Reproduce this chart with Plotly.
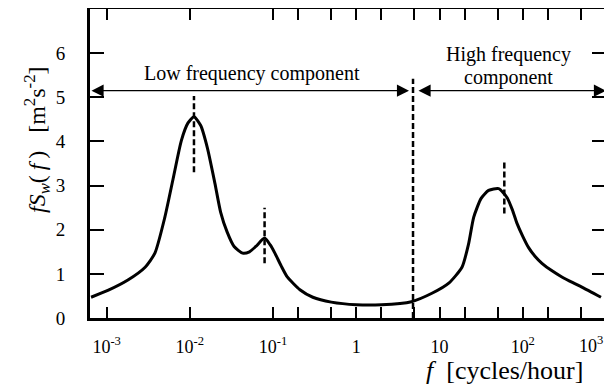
import math
import plotly.graph_objects as go

# ---- data ----
freq = [0.00065, 0.00105, 0.0018, 0.0029, 0.0038, 0.0050, 0.0063, 0.0079, 0.0095,
        0.0112, 0.0135, 0.0162, 0.020, 0.0234, 0.028, 0.034, 0.043, 0.052, 0.062, 0.079,
        0.092, 0.105, 0.125, 0.148, 0.21, 0.30, 0.50, 1.0, 2.0, 4.6, 8.1, 12.9, 18.6,
        22.4, 25.7, 31.6, 38.9, 51.3, 64.6, 75, 85, 100, 117, 140, 170, 220, 295, 400,
        513, 870]
fSw = [0.47, 0.63, 0.86, 1.15, 1.47, 2.28, 3.16, 4.02, 4.42,
       4.56, 4.36, 3.86, 3.05, 2.40, 1.95, 1.62, 1.47, 1.50, 1.62, 1.81,
       1.66, 1.47, 1.18, 0.93, 0.64, 0.47, 0.36, 0.30, 0.30, 0.37, 0.56, 0.79, 1.15,
       1.69, 2.28, 2.71, 2.89, 2.93, 2.73, 2.45, 2.15, 1.85, 1.60, 1.40, 1.24, 1.08, 0.93, 0.80,
       0.70, 0.47]

peak_f = [0.0112, 0.079, 60]
peak_lo = [3.3, 1.24, 2.37]
peak_hi = [5.03, 2.5, 3.57]

f_min, f_split, f_max = 10 ** -3.2, 4.8, 1000
split_top = 5.42
arrow_level = 5.15

x_tick_vals = [0.001, 0.01, 0.1, 0.2, 0.5, 1, 2, 5, 10, 20, 50, 100, 200, 500]
x_tick_text = ['10<sup>-3</sup>', '10<sup>-2</sup>', '10<sup>-1</sup>', '', '', '1', '', '',
               '10', '', '', '10<sup>2</sup>', '', '']
y_tick_vals = [0, 1, 2, 3, 4, 5, 6]

FONT = "Liberation Serif"

fig = go.Figure()

for f, lo, hi in zip(peak_f, peak_lo, peak_hi):
    fig.add_trace(go.Scatter(x=[f, f], y=[lo, hi], mode="lines",
                             line=dict(color="black", width=2.5, dash="6px,3px"),
                             showlegend=False, hoverinfo="skip"))
fig.add_trace(go.Scatter(x=[f_split, f_split], y=[0, split_top], mode="lines",
                         line=dict(color="black", width=2.5, dash="6px,3px"),
                         showlegend=False, hoverinfo="skip"))

fig.add_trace(go.Scatter(x=freq, y=fSw, mode="lines",
                         line=dict(color="black", width=3, shape="spline", smoothing=0.6),
                         showlegend=False))

lx = math.log10
tf = dict(family=FONT, size=20, color="black")
# page is drawn with an 8px body margin: plot area spans page x 90-606, y 9-318
PX0, PX1, PY0, PY1 = 90, 606, 9, 318


def px(x):
    return (x - PX0) / (PX1 - PX0)


def py(y):
    return (PY1 - y) / (PY1 - PY0)


NB = "\u00a0"
TH = "\u2009"
y_title = ("<i>fS</i><sub><i>w</i></sub>(" + TH + "<i>f</i>" + TH + ")" + NB * 3 +
           "[m<sup>2</sup>s<sup>-2</sup>]")
x_title = "<i>f</i>" + NB * 2 + "[cycles/hour]"

annotations = [
    dict(x=lx(f_split), y=arrow_level, ax=lx(f_min), ay=arrow_level,
         xref="x", yref="y", axref="x", ayref="y", text="", showarrow=True,
         arrowside="end+start", arrowhead=2, arrowsize=2.2, arrowwidth=1.1,
         arrowcolor="black", standoff=4, startstandoff=0),
    dict(x=lx(f_max), y=arrow_level, ax=lx(f_split), ay=arrow_level,
         xref="x", yref="y", axref="x", ayref="y", text="", showarrow=True,
         arrowside="end+start", arrowhead=2, arrowsize=2.2, arrowwidth=1.1,
         arrowcolor="black", standoff=0, startstandoff=4),
    dict(x=-1.25, y=5.53, xref="x", yref="y", text="Low frequency component",
         showarrow=False, font=tf, xanchor="center", yanchor="middle"),
    dict(x=1.83, y=5.96, xref="x", yref="y", text="High frequency",
         showarrow=False, font=tf, xanchor="center", yanchor="middle"),
    dict(x=1.83, y=5.44, xref="x", yref="y", text="component",
         showarrow=False, font=tf, xanchor="center", yanchor="middle"),
    dict(x=px(591), y=py(344), xref="paper", yref="paper",
         text="10<sup>3</sup>", showarrow=False, xanchor="center", yanchor="middle",
         font=dict(family=FONT, size=18, color="black")),
    dict(x=px(504), y=py(370), xref="paper", yref="paper",
         text=x_title, showarrow=False, xanchor="center", yanchor="middle",
         font=dict(family=FONT, size=26, color="black")),
    dict(x=px(37), y=py(140), xref="paper", yref="paper",
         text=y_title, textangle=-90, showarrow=False, xanchor="center", yanchor="middle",
         font=dict(family=FONT, size=24, color="black")),
]

fig.update_layout(
    width=604, height=379,
    margin=dict(l=82, r=6, t=1, b=69, autoexpand=False),
    plot_bgcolor="white", paper_bgcolor="white",
    font=dict(family=FONT, color="black"),
    annotations=annotations,
    xaxis=dict(type="log", range=[-3.2, 3.0], tickvals=x_tick_vals, ticktext=x_tick_text,
               ticks="inside", ticklen=11, tickwidth=2, tickcolor="black",
               showline=True, linewidth=3, linecolor="black", mirror="ticks",
               showgrid=False, zeroline=False, ticklabelstandoff=10, automargin=False,
               tickfont=dict(family=FONT, size=18, color="black")),
    yaxis=dict(range=[0, 7], tickvals=y_tick_vals,
               ticks="inside", ticklen=14, tickwidth=2, tickcolor="black",
               showline=True, linewidth=3, linecolor="black", mirror="ticks",
               showgrid=False, zeroline=False, ticklabelstandoff=18, automargin=False,
               tickfont=dict(family=FONT, size=19, color="black")),
)

fig.write_html("out.html")
